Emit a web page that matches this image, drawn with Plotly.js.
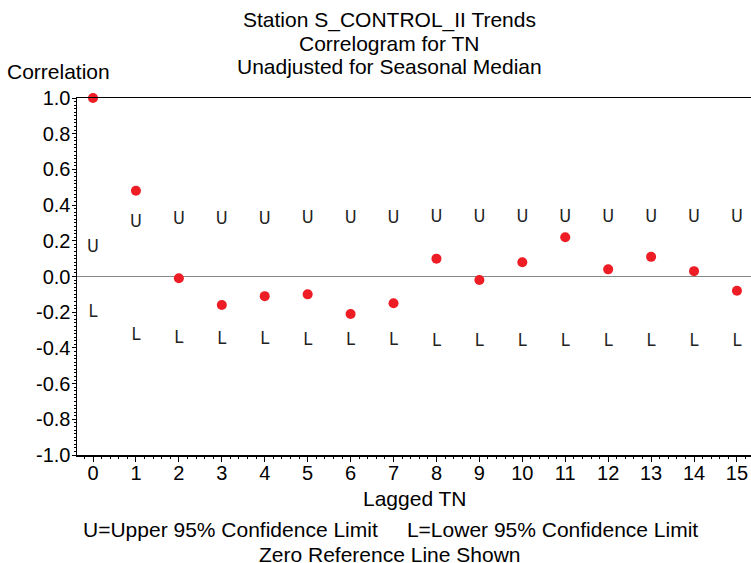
<!DOCTYPE html>
<html>
<head>
<meta charset="utf-8">
<script src="https://cdn.plot.ly/plotly-3.0.1.min.js"></script>
<style>html,body{margin:0;padding:0;background:#fff;}#chart{width:751px;height:563px;}</style>
</head>
<body>
<div id="chart"></div>
<script>
const lags = [0,1,2,3,4,5,6,7,8,9,10,11,12,13,14,15];
const correlation = [1.0,0.48,-0.01,-0.16,-0.11,-0.10,-0.21,-0.15,0.10,-0.02,0.08,0.22,0.04,0.11,0.03,-0.08];
const upperMarkPos = [0.165,0.30,0.32,0.32,0.32,0.325,0.325,0.325,0.33,0.33,0.33,0.33,0.33,0.33,0.33,0.33];
const lowerMarkPos = [-0.20,-0.33,-0.35,-0.355,-0.355,-0.36,-0.36,-0.36,-0.364,-0.364,-0.364,-0.364,-0.364,-0.364,-0.364,-0.364];
const xTickVals = lags;
const yTickVals = [-1.0,-0.8,-0.6,-0.4,-0.2,0.0,0.2,0.4,0.6,0.8,1.0];
const titleLines = ["Station S_CONTROL_II Trends","Correlogram for TN","Unadjusted for Seasonal Median"];
const yAxisLabel = "Correlation";
const xAxisLabel = "Lagged TN";
const footLines = ["U=Upper 95% Confidence Limit\u00a0\u00a0\u00a0\u00a0 L=Lower 95% Confidence Limit", "Zero Reference Line Shown"];

const baseFont = "Liberation Sans, Arial, sans-serif";
const markFont = {family: "Liberation Sans Narrow, DejaVu Sans Condensed, sans-serif", size: 18, color: "#222"};

const traces = [
  {x: lags, y: upperMarkPos, mode: "text", text: lags.map(() => "U"), textposition: "middle center",
   textfont: markFont, hoverinfo: "skip", showlegend: false, cliponaxis: false},
  {x: lags, y: lowerMarkPos, mode: "text", text: lags.map(() => "L"), textposition: "middle center",
   textfont: markFont, hoverinfo: "skip", showlegend: false, cliponaxis: false},
  {x: lags, y: correlation, mode: "markers", marker: {color: "#ee1c24", size: 10},
   showlegend: false, cliponaxis: false}
];

const titleY = [1.2193, 1.1532, 1.0896];
const footY = [-0.210, -0.2775];
function ann(text, x, y, size) {
  return {text: text, xref: "paper", yref: "paper", x: x, y: y, xanchor: "center", yanchor: "middle",
          showarrow: false, borderpad: 0, font: {size: size, family: baseFont, color: "#000"}};
}
const annotations = titleLines.map((t, i) => ann(t, 0.463, titleY[i], 21))
  .concat([ann(yAxisLabel, -0.027, 1.0756, 21), ann(xAxisLabel, 0.502, -0.1213, 21)])
  .concat(footLines.map((t, i) => ann(t, 0.465, footY[i], 21)));

const layout = {
  width: 751, height: 563,
  margin: {l: 77, r: 0, t: 98, b: 108},
  paper_bgcolor: "#fff", plot_bgcolor: "#fff",
  font: {family: baseFont, color: "#000", size: 20},
  xaxis: {range: [-0.373, 15.327], tickvals: xTickVals, ticktext: xTickVals.map(String),
          ticks: "outside", ticklen: 5, tickwidth: 1, tickcolor: "#000", ticklabelstandoff: -6,
          minor: {dtick: 0.2, ticks: "outside", ticklen: 2, tickcolor: "#000", showgrid: false},
          showline: true, linecolor: "#000", linewidth: 1.5, mirror: true,
          showgrid: false, zeroline: false, tickfont: {size: 20}, fixedrange: true},
  yaxis: {range: [-1, 1], tickvals: yTickVals, ticktext: yTickVals.map(v => v.toFixed(1)),
          ticks: "outside", ticklen: 4, tickwidth: 1, tickcolor: "#000", ticklabelstandoff: -3,
          minor: {dtick: 0.02, ticks: "outside", ticklen: 2, tickcolor: "#000", showgrid: false},
          showline: true, linecolor: "#000", linewidth: 1.5,
          showgrid: false, zeroline: true, zerolinecolor: "#888", zerolinewidth: 1.5,
          tickfont: {size: 20}, fixedrange: true},
  annotations: annotations
};

Plotly.newPlot("chart", traces, layout, {displayModeBar: false, staticPlot: true});
</script>
</body>
</html>
